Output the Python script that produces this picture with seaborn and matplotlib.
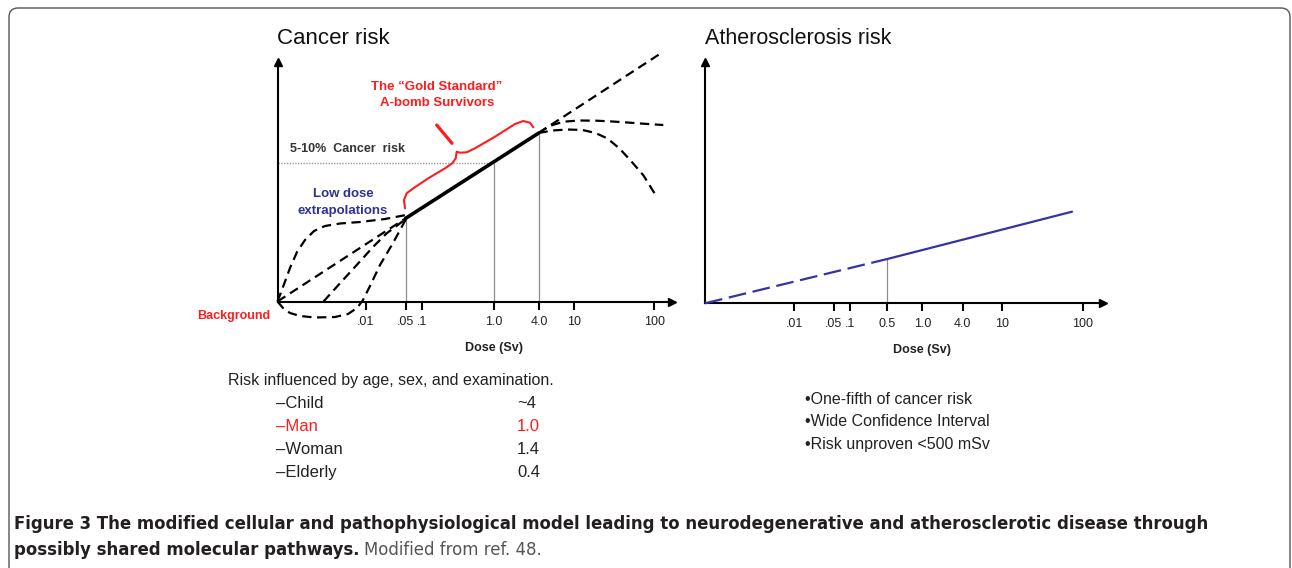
import matplotlib
matplotlib.use("Agg")
import matplotlib.pyplot as plt
import seaborn as sns
import numpy as np
import pandas as pd
from matplotlib import font_manager as fm
from matplotlib.patches import FancyBboxPatch
from matplotlib.transforms import IdentityTransform

# ---------------- data (schematic units) ----------------
cancer_tick_pos = [88.5, 128.2, 144.2, 216.5, 261.8, 296.5, 376.8]
cancer_tick_labels = ['.01', '.05', '.1', '1.0', '4.0', '10', '100']

athero_tick_pos = [89.3, 129.0, 145.3, 182.3, 217.3, 257.7, 297.3, 377.7]
athero_tick_labels = ['.01', '.05', '.1', '0.5', '1.0', '4.0', '10', '100']

# A-bomb survivors observed range (solid)
observed_x = [128.2, 260.8]
observed_y = [83.2, 168.2]

# low dose extrapolations (dashed)
supralinear_x = [0, 5.5, 12.5, 19.5, 27.5, 36.5, 47.5, 62.5, 82.5, 107.5, 128.5]
supralinear_y = [0, 14.5, 33.5, 49.5, 61.5, 70.5, 75.5, 78.0, 79.5, 82.5, 86.5]
linear_x = [0, 128.2]
linear_y = [0, 83.2]
threshold_x = [46.0, 62.5, 79.2, 95.8, 109.2, 129.2]
threshold_y = [0, 18.2, 36.5, 54.8, 68.2, 83.2]
hormesis_x = [0, 5.5, 12.5, 22.5, 37.5, 57.5, 70.5, 79.5, 85.5, 92.5, 102.5, 115.5, 128.5]
hormesis_y = [0, -6.5, -11.5, -14.5, -16.0, -15.5, -12.5, -6.5, 1.5, 15.5, 36.5, 58.5, 82.5]

# high dose behaviour (dashed)
highlin_x = [261.0, 385.8]
highlin_y = [168.5, 249.8]
plateau_x = [261.0, 272.0, 285.8, 302.0, 319.2, 335.0, 352.5, 370.0, 385.8]
plateau_y = [168.5, 175.5, 179.8, 181.0, 180.8, 180.0, 178.8, 177.5, 176.5]
downturn_x = [261.0, 275.0, 290.0, 305.0, 318.0, 330.0, 342.0, 354.0, 366.0, 379.0]
downturn_y = [168.5, 171.0, 172.0, 171.5, 168.5, 163.0, 153.0, 140.0, 126.0, 105.0]

# "gold standard" brace
brace_x = [127.5, 126.5, 129.2, 135.8, 150.8, 167.5, 174.8, 178.2, 179.2,
           182.5, 189.2, 197.5, 217.5, 237.5, 245.8, 252.5, 255.8]
brace_y = [93.2, 101.5, 108.2, 113.2, 123.2, 133.2, 138.2, 143.2, 149.8,
           148.8, 149.2, 153.2, 164.8, 177.5, 180.5, 178.8, 174.2]
slash_x = [159.2, 174.5]
slash_y = [176.5, 158.2]

cancer_risk_level = 138.8   # 5-10% cancer risk level (dotted)

# atherosclerosis risk
athero_dash_x = [0, 182.3]
athero_dash_y = [0, 44.3]
athero_solid_x = [182.3, 367.0]
athero_solid_y = [44.3, 91.6]

groups = ['\u2013Child', '\u2013Man', '\u2013Woman', '\u2013Elderly']
group_values = ['~4', '1.0', '1.4', '0.4']
athero_notes = ['\u2022One-fifth of cancer risk',
                '\u2022Wide Confidence Interval',
                '\u2022Risk unproven <500 mSv']

# ---------------- style ----------------
sns.set_theme(style='white')
plt.rcParams['font.family'] = ['Liberation Sans', 'DejaVu Sans']
plt.rcParams['axes.linewidth'] = 1.5

W, H = 1292, 568
fig = plt.figure(figsize=(W / 100, H / 100), dpi=100)
fig.patch.set_facecolor('white')

RED = '#ff1c1c'
NAVY = '#2e3192'
BLUE = '#3434a2'
GRAY = '#8c8c8c'
DARK = '#222222'


def P(x, y):
    return x / W, 1 - y / H


def add_ax_px(left, top, right, bottom):
    return fig.add_axes([left / W, 1 - bottom / H, (right - left) / W, (bottom - top) / H])


def style_axis(ax, xmax, ymin, ymax, ticks, labels):
    ax.set_xlim(0, xmax)
    ax.set_ylim(ymin, ymax)
    ax.patch.set_alpha(0)
    for s in ['top', 'right']:
        ax.spines[s].set_visible(False)
    ax.spines['bottom'].set_position(('data', 0))
    ax.spines['left'].set_bounds(0, ymax)
    for s in ['bottom', 'left']:
        ax.spines[s].set_color('black')
        ax.spines[s].set_linewidth(1.5)
    ax.set_xticks(ticks)
    ax.set_xticklabels(labels)
    ax.set_yticks([])
    ax.tick_params(axis='x', direction='out', length=5.5, width=1.5, color='black',
                   pad=5, labelsize=9, labelcolor=DARK, bottom=True)
    ax.grid(False)
    ax.plot(0, 1, marker='^', color='black', markersize=6,
            transform=ax.get_xaxis_transform(), clip_on=False)
    ax.plot(1, 0, marker='>', color='black', markersize=6,
            transform=ax.get_yaxis_transform(), clip_on=False)


def curve(ax, xs, ys, color='black', lw=1.5, dashes=None, zorder=3):
    sns.lineplot(x=xs, y=ys, ax=ax, color=color, sort=False, estimator=None,
                 linewidth=lw, zorder=zorder)
    ln = ax.lines[-1]
    ln.set_clip_on(False)
    if dashes is not None:
        ln.set_dashes(dashes)
    return ln


# ---------------- left panel: cancer risk ----------------
axL = add_ax_px(277.5, 62, 672, 321.5)
style_axis(axL, 394.5, -20, 239.5, cancer_tick_pos, cancer_tick_labels)

i05, i1, i4 = 1, 3, 4
axL.vlines(cancer_tick_pos[i05], 0, observed_y[0], color=GRAY, lw=0.9, zorder=2)
axL.vlines(cancer_tick_pos[i1], 0, cancer_risk_level, color=GRAY, lw=0.9, zorder=2)
axL.vlines(cancer_tick_pos[i4], 0, observed_y[1], color=GRAY, lw=0.9, zorder=2)
axL.hlines(cancer_risk_level, 0, cancer_tick_pos[i1], color='#9a9a9a', lw=1.0,
           linestyles=(0, (1, 1)), zorder=2)

dash = (4.2, 2.5)
for xs, ys in [(supralinear_x, supralinear_y), (linear_x, linear_y),
               (threshold_x, threshold_y), (hormesis_x, hormesis_y),
               (highlin_x, highlin_y), (plateau_x, plateau_y),
               (downturn_x, downturn_y)]:
    curve(axL, xs, ys, lw=1.6, dashes=dash)
curve(axL, observed_x, observed_y, lw=2.6, zorder=4)
curve(axL, brace_x, brace_y, color=RED, lw=1.5, zorder=4)
curve(axL, slash_x, slash_y, color=RED, lw=2.3, zorder=4)

# ---------------- right panel: atherosclerosis risk ----------------
axR = add_ax_px(705, 62, 1103, 323.3)
style_axis(axR, 398, -20, 241.3, athero_tick_pos, athero_tick_labels)
axR.vlines(athero_tick_pos[3], 0, athero_dash_y[1], color=GRAY, lw=0.9, zorder=2)
curve(axR, athero_dash_x, athero_dash_y, color=BLUE, lw=1.6, dashes=(8, 3))
curve(axR, athero_solid_x, athero_solid_y, color=BLUE, lw=1.6)

# ---------------- texts ----------------
fig.text(*P(276.7, 44.3), 'Cancer risk', fontsize=16, color='#111', va='baseline', ha='left')
fig.text(*P(705, 44.3), 'Atherosclerosis risk', fontsize=15.5, color='#111', va='baseline', ha='left')

fig.text(*P(436.7, 95), 'The \u201cGold Standard\u201d\nA-bomb Survivors', fontsize=9.5,
         fontweight='bold', color=RED, ha='center', va='center', linespacing=1.45)
fig.text(*P(290, 148.5), '5-10%  Cancer  risk', fontsize=9, fontweight='bold',
         color='#333', ha='left', va='center')
fig.text(*P(343, 202.5), 'Low dose\nextrapolations', fontsize=9.5, fontweight='bold',
         color=NAVY, ha='center', va='center', linespacing=1.45)
fig.text(*P(270.7, 315.7), 'Background', fontsize=9, fontweight='bold', color=RED,
         ha='right', va='center')
fig.text(*P(494, 348.5), 'Dose (Sv)', fontsize=9, fontweight='bold', color=DARK,
         ha='center', va='center')
fig.text(*P(921.7, 349.5), 'Dose (Sv)', fontsize=9, fontweight='bold', color=DARK,
         ha='center', va='center')

renderer = fig.canvas.get_renderer()


def fit(t, target):
    bb = t.get_window_extent(renderer)
    t.set_fontsize(t.get_fontsize() * target / bb.width)


hdr = fig.text(*P(228, 380.7), 'Risk influenced by age, sex, and examination.',
               fontsize=11, color=DARK, ha='left', va='center')
fit(hdr, 326)
row_y = [403.3, 426.7, 450.0, 472.7]
for g, v, y in zip(groups, group_values, row_y):
    c = RED if g == '\u2013Man' else DARK
    fig.text(*P(276, y), g, fontsize=12, color=c, ha='left', va='center')
    fig.text(*P(517, y), v, fontsize=12, color=c, ha='left', va='center')

for i, s in enumerate(athero_notes):
    fig.text(*P(805, 399 + 23 * i), s, fontsize=11.5, color=DARK, ha='left', va='center')


# caption font: prefer an installed upright condensed sans, else Liberation Sans
def weight_num(w):
    if isinstance(w, str):
        return {'bold': 700, 'semibold': 600, 'demibold': 600, 'normal': 400,
                'regular': 400, 'book': 400}.get(w.lower(), 400)
    return w


def find_condensed(bold):
    for f in fm.fontManager.ttflist:
        nm = f.name + ' ' + f.fname
        if any(k in nm for k in ('Serif', 'Mono', 'CJK', 'Oblique', 'Italic')):
            continue
        if f.style != 'normal':
            continue
        cond = ('Condensed' in nm or 'Narrow' in nm or
                str(f.stretch) in ('condensed', 'semi-condensed', 'extra-condensed'))
        if not cond:
            continue
        w = weight_num(f.weight)
        if bold and w in (600, 700):
            return fm.FontProperties(fname=f.fname)
        if (not bold) and w == 400:
            return fm.FontProperties(fname=f.fname)
    return None


fp_b = find_condensed(True)
fp_r = find_condensed(False)
if fp_b is None or fp_r is None:
    fp_b = fm.FontProperties(family=['Liberation Sans'], weight='bold')
    fp_r = fm.FontProperties(family=['Liberation Sans'], weight='normal')

cap1 = fig.text(*P(14, 524), 'Figure 3 The modified cellular and pathophysiological model leading to '
                'neurodegenerative and atherosclerotic disease through',
                fontproperties=fp_b, color='#231f20', ha='left', va='center')
cap1.set_fontsize(13)
fit(cap1, 1197)
fs = cap1.get_fontsize()
cap2 = fig.text(*P(14, 550), 'possibly shared molecular pathways.',
                fontproperties=fp_b, color='#231f20', ha='left', va='center')
cap2.set_fontsize(fs)
bb2 = cap2.get_window_extent(renderer)
cap3 = fig.text((bb2.x1 + 5) / W, 1 - 550 / H, 'Modified from ref. 48.',
                fontproperties=fp_r, color='#555555', ha='left', va='center')
cap3.set_fontsize(fs)

# border
border = FancyBboxPatch((9, -30), 1281, H - 8 + 30, boxstyle='round,pad=0,rounding_size=9',
                        transform=IdentityTransform(), facecolor='none',
                        edgecolor='#555555', lw=1.0, zorder=0)
fig.patches.append(border)

fig.savefig('out.png', dpi=100)
